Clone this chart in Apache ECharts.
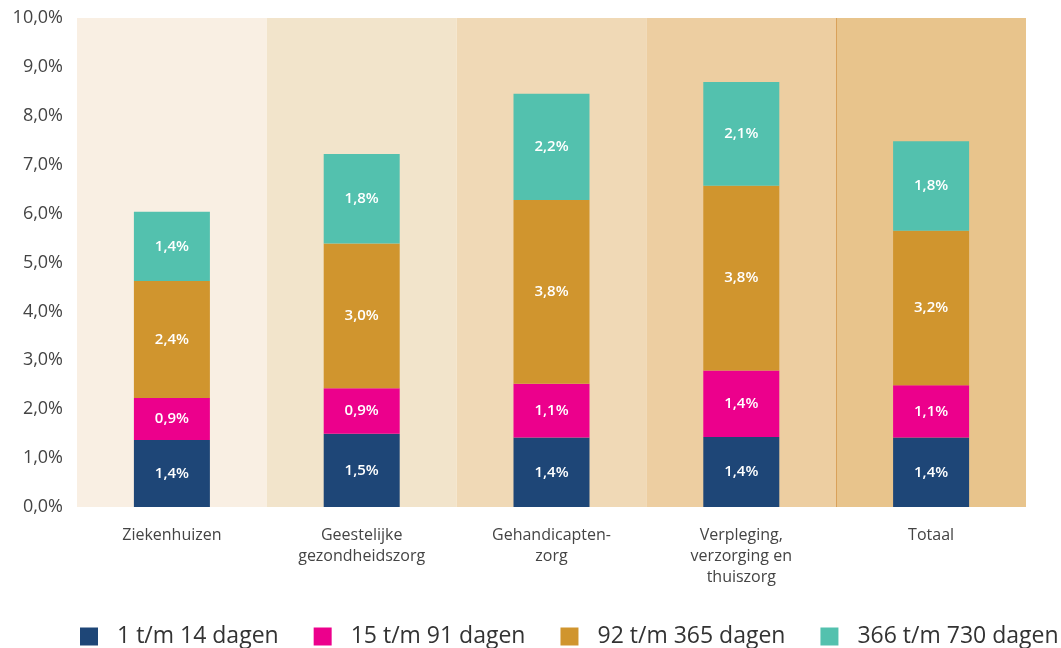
<!DOCTYPE html>
<html>
<head>
<meta charset="utf-8">
<script src="https://cdn.jsdelivr.net/npm/echarts@6/dist/echarts.min.js"></script>
<style>
html,body{margin:0;padding:0;background:#fff;}
#chart{width:1061px;height:648px;}
</style>
</head>
<body>
<div id="chart"></div>
<script>
const categories = ['Ziekenhuizen', 'Geestelijke\ngezondheidszorg', 'Gehandicapten-\nzorg', 'Verpleging,\nverzorging en\nthuiszorg', 'Totaal'];
const seriesNames = ['1 t/m 14 dagen', '15 t/m 91 dagen', '92 t/m 365 dagen', '366 t/m 730 dagen'];
const d1_14 = [1.37, 1.50, 1.42, 1.43, 1.42];
const d15_91 = [0.86, 0.93, 1.10, 1.36, 1.07];
const d92_365 = [2.39, 2.96, 3.76, 3.78, 3.16];
const d366_730 = [1.42, 1.83, 2.17, 2.12, 1.83];
const yTicks = [0, 1, 2, 3, 4, 5, 6, 7, 8, 9, 10];
const bandValues = [10, 10, 10, 10, 10];
const dividerPosition = [4];

const seriesColors = ['#1E4677', '#EC008C', '#D0952E', '#53C1AE'];
const bandColors = ['#F9EFE3', '#F2E4CB', '#F0D9B6', '#EDCEA1', '#E8C48C'];
const fontFamily = '"Open Sans", "Noto Sans", sans-serif';

const fmt = v => v.toFixed(1).replace('.', ',') + '%';

const chart = echarts.init(document.getElementById('chart'), null, {renderer: 'canvas'});

const dataSeries = [d1_14, d15_91, d92_365, d366_730].map((arr, i) => ({
  name: seriesNames[i],
  type: 'bar',
  stack: 'total',
  xAxisIndex: 0,
  yAxisIndex: 0,
  barWidth: 76,
  z: 3,
  itemStyle: {color: seriesColors[i]},
  label: {
    show: true,
    position: 'inside',
    color: '#fff',
    fontFamily: fontFamily,
    fontWeight: 600,
    fontSize: 15,
    formatter: p => fmt(p.value)
  },
  emphasis: {disabled: true},
  data: arr
}));

const option = {
  animation: false,
  grid: {left: 77, right: 35, top: 18, bottom: 141, containLabel: false},
  legend: {
    show: true,
    data: seriesNames,
    left: 75,
    top: 620,
    width: 3000,
    orient: 'horizontal',
    itemWidth: 18,
    itemHeight: 18,
    itemGap: 35,
    icon: 'rect',
    textStyle: {
      fontFamily: fontFamily,
      fontSize: 23,
      color: '#333',
      padding: [0, 0, 0, 14]
    },
    selectedMode: false
  },
  xAxis: [
    {
      type: 'category',
      data: categories,
      axisLine: {show: false},
      axisTick: {show: false},
      axisLabel: {
        interval: 0,
        margin: 18,
        color: '#444',
        fontFamily: fontFamily,
        fontSize: 16,
        lineHeight: 21,
        verticalAlign: 'top'
      }
    },
    {
      type: 'category',
      data: categories,
      show: false
    },
    {
      type: 'value',
      min: 0,
      max: categories.length,
      show: false
    }
  ],
  yAxis: {
    type: 'value',
    min: yTicks[0],
    max: yTicks[yTicks.length - 1],
    interval: 1,
    axisLine: {show: false},
    axisTick: {show: false},
    splitLine: {show: false},
    axisLabel: {
      margin: 14,
      color: '#444',
      fontFamily: fontFamily,
      fontSize: 18,
      formatter: v => v.toFixed(1).replace('.', ',') + '%'
    }
  },
  series: [
    {
      name: 'band',
      type: 'bar',
      xAxisIndex: 1,
      yAxisIndex: 0,
      barWidth: '100%',
      z: 1,
      silent: true,
      legendHoverLink: false,
      data: bandValues.map((v, i) => ({value: v, itemStyle: {color: bandColors[i]}}))
    },
    {
      name: 'divider',
      type: 'line',
      xAxisIndex: 2,
      yAxisIndex: 0,
      z: 2,
      silent: true,
      showSymbol: false,
      data: [],
      markLine: {
        silent: true,
        symbol: ['none', 'none'],
        label: {show: false},
        lineStyle: {color: '#D9A15A', type: 'solid', width: 1},
        data: dividerPosition.map(p => ({xAxis: p}))
      }
    },
    ...dataSeries
  ]
};

chart.setOption(option);
</script>
</body>
</html>
